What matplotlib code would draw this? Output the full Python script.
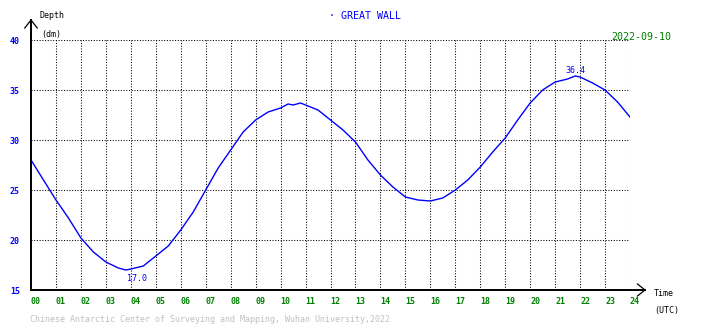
import matplotlib
matplotlib.use('Agg')
import matplotlib.pyplot as plt
import numpy as np

# tide record (hours UTC, depth in dm)
hours = [0, 0.5, 1, 1.5, 2, 2.5, 3, 3.5, 3.8, 4, 4.5, 5, 5.5, 6, 6.5, 7, 7.5, 8,
         8.5, 9, 9.5, 10, 10.3, 10.5, 10.8, 11, 11.5, 12, 12.5, 13, 13.5, 14,
         14.5, 15, 15.5, 16, 16.5, 17, 17.5, 18, 18.5, 19, 19.5, 20, 20.5, 21,
         21.5, 21.8, 22, 22.5, 23, 23.5, 24]
depth = [28.0, 26.0, 24.0, 22.2, 20.2, 18.8, 17.8, 17.2, 17.0, 17.1, 17.4, 18.4,
         19.4, 21.0, 22.8, 25.0, 27.2, 29.0, 30.8, 32.0, 32.8, 33.2, 33.6, 33.5,
         33.7, 33.5, 33.0, 32.0, 31.0, 29.8, 28.0, 26.5, 25.3, 24.3, 24.0, 23.9,
         24.2, 25.0, 26.0, 27.3, 28.8, 30.2, 32.0, 33.7, 35.0, 35.8, 36.1, 36.4,
         36.3, 35.7, 35.0, 33.8, 32.3]
station = 'GREAT WALL'
date_str = '2022-09-10'
xticks = list(range(0, 25))
yticks = [15, 20, 25, 30, 35, 40]

W, H = 710, 328
mono = 'DejaVu Sans Mono'
blue = '#0000ff'
green = '#008000'

fig = plt.figure(figsize=(W / 100, H / 100), dpi=100)
ax = fig.add_axes([31 / W, 1 - 290 / H, 599 / W, 250 / H])
ax.set_xlim(0, 24)
ax.set_ylim(15, 40)

# dotted grid
for h in xticks[1:]:
    ax.axvline(h, color='black', lw=0.75, ls=(0, (1, 1.6)), zorder=1)
for v in yticks[1:]:
    ax.axhline(v, color='black', lw=0.75, ls=(0, (1, 1.6)), zorder=1)

ax.plot(hours, depth, color=blue, lw=1.0, zorder=3)

i_min = int(np.argmin(depth))
i_max = int(np.argmax(depth))
ax.annotate('%.1f' % depth[i_min], (hours[i_min], depth[i_min]), xytext=(8, -6),
            textcoords='offset points', ha='center', va='center',
            color=blue, fontsize=6, family=mono)
ax.annotate('%.1f' % depth[i_max], (hours[i_max], depth[i_max]), xytext=(0, 4),
            textcoords='offset points', ha='center', va='center',
            color=blue, fontsize=6, family=mono)

for s in ['top', 'right', 'left', 'bottom']:
    ax.spines[s].set_visible(False)
ax.set_facecolor('white')

# axes with arrow heads
ax.plot([0, 0], [15, 42], color='black', lw=1.4, clip_on=False, zorder=4)
ax.plot([-0.25, 0, 0.25], [41.2, 42, 41.2], color='black', lw=0.9, clip_on=False, zorder=4)
ax.plot([0, 24.6], [15, 15], color='black', lw=1.4, clip_on=False, zorder=4)
ax.plot([24.3, 24.6, 24.3], [15.6, 15, 14.4], color='black', lw=0.9, clip_on=False, zorder=4)

ax.set_xticks(xticks)
ax.set_xticklabels(['%02d' % h for h in xticks], color=green, fontsize=6,
                   family=mono, fontweight='bold', ha='left')
ax.set_yticks(yticks)
ax.set_yticklabels([str(v) for v in yticks], color=blue, fontsize=6,
                   family=mono, fontweight='bold')
ax.tick_params(axis='x', length=0, pad=5)
ax.tick_params(axis='y', length=0, pad=8)

def ftext(x, y, s, **kw):
    fig.text(x / W, 1 - y / H, s, family=mono, va='center', **kw)

ftext(40, 16, 'Depth', fontsize=6, color='black')
ftext(41, 34, '(dm)', fontsize=6, color='black')
ftext(654, 294, 'Time', fontsize=6, color='black')
ftext(654, 310, '(UTC)', fontsize=6, color='black')
ftext(329, 16, '\u00b7 ' + station, fontsize=7.2, color=blue)
ftext(611, 37, date_str, fontsize=7.2, color=green)
ftext(30, 320, 'Chinese Antarctic Center of Surveying and Mapping, Wuhan University,2022',
      fontsize=6, color='#c0c0c0')

fig.savefig('out.png', dpi=100, facecolor='white')
